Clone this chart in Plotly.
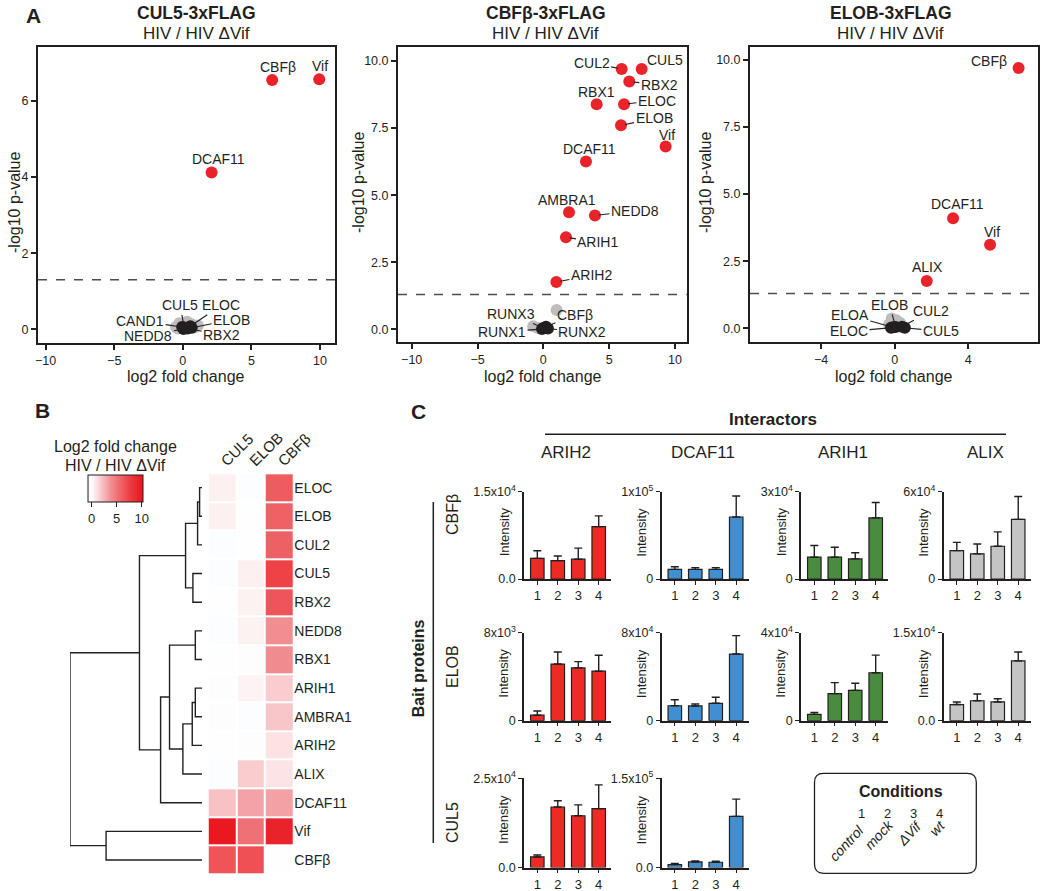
import plotly.graph_objects as go

W, H = 1045, 891
FONT = 'Liberation Sans, Arial, Helvetica, sans-serif'
INK = '#231f20'
RED = '#e8242a'
GRAY_PT = '#bdbdbd'

# ---------------- DATA ----------------
# Panel A: CUL5-3xFLAG
cul5_sig_names = ['CBFβ', 'Vif', 'DCAF11']
cul5_sig_fc = [6.52, 9.95, 2.10]
cul5_sig_p = [6.55, 6.57, 4.12]
cul5_ns_names = ['CUL5', 'ELOC', 'ELOB', 'CAND1', 'NEDD8', 'RBX2']
cul5_ns_fc = [0.10, 0.55, 0.65, -0.05, 0.05, 0.35]
cul5_ns_p = [0.05, 0.08, 0.04, 0.06, 0.01, 0.02]
cul5_bg_fc = [-0.5, -0.25, 0.3, 0.85, 0.6, -0.35, 1.1, 0.15]
cul5_bg_p = [0.06, 0.16, 0.20, 0.05, 0.14, 0.02, 0.10, 0.12]

# Panel A: CBFb-3xFLAG
cbfb_sig_names = ['CUL2', 'CUL5', 'RBX2', 'RBX1', 'ELOC', 'ELOB', 'Vif', 'DCAF11',
                  'AMBRA1', 'NEDD8', 'ARIH1', 'ARIH2']
cbfb_sig_fc = [5.95, 7.47, 6.53, 4.05, 6.13, 5.90, 9.29, 3.24, 1.95, 3.92, 1.72, 0.99]
cbfb_sig_p = [9.70, 9.70, 9.23, 8.39, 8.39, 7.60, 6.81, 6.25, 4.36, 4.24, 3.43, 1.76]
cbfb_ns_names = ['RUNX3', 'CBFβ', 'RUNX1', 'RUNX2']
cbfb_ns_fc = [0.0, 0.2, -0.1, 0.35]
cbfb_ns_p = [0.05, 0.10, 0.01, 0.03]
cbfb_bg_fc = [1.01, -0.77, -0.4]
cbfb_bg_p = [0.72, 0.12, 0.05]

# Panel A: ELOB-3xFLAG
elob_sig_names = ['CBFβ', 'DCAF11', 'Vif', 'ALIX']
elob_sig_fc = [6.73, 3.17, 5.18, 1.74]
elob_sig_p = [9.70, 4.10, 3.11, 1.76]
elob_ns_names = ['ELOA', 'ELOB', 'CUL2', 'ELOC', 'CUL5']
elob_ns_fc = [-0.10, 0.05, 0.40, -0.20, 0.55]
elob_ns_p = [0.04, 0.05, 0.06, 0.02, 0.02]
elob_bg_fc = [-0.16, 0.10, -0.30, 0.30]
elob_bg_p = [0.37, 0.30, 0.15, 0.20]

p_threshold = 1.3  # -log10(0.05)

# Panel B: heatmap
heat_rows = ['ELOC', 'ELOB', 'CUL2', 'CUL5', 'RBX2', 'NEDD8', 'RBX1', 'ARIH1',
             'AMBRA1', 'ARIH2', 'ALIX', 'DCAF11', 'Vif', 'CBFβ']
heat_cols = ['CUL5', 'ELOB', 'CBFβ']
heat_cul5 = [0.5, 0.5, -0.15, -0.15, 0.05, -0.15, 0.05, -0.1, -0.1, 0.05, -0.15, 2.1, 9.95, 6.52]
heat_elob = [-0.15, 0.05, 0.05, 0.5, 0.45, 0.45, -0.1, 0.4, -0.15, -0.1, 1.74, 3.17, 5.18, 6.73]
heat_cbfb = [6.13, 5.90, 5.95, 7.47, 6.53, 3.92, 4.05, 1.72, 1.95, 0.99, 0.9, 3.24, 9.29, 0.05]
# dendrogram merges (scipy style: leaf ids 0..13, new clusters from 14), distances
dendro_left = [0, 14, 3, 15, 5, 7, 19, 20, 18, 22, 17, 12, 24]
dendro_right = [1, 2, 4, 16, 6, 8, 9, 10, 21, 11, 23, 13, 25]
dendro_dist = [0.18, 0.33, 0.68, 1.23, 0.50, 0.50, 0.73, 1.43, 2.43, 3.10, 4.68, 7.18, 9.88]

# Panel C: intensities (conditions 1..4)
conditions = [1, 2, 3, 4]
condition_names = ['control', 'mock', 'ΔVif', 'wt']
cbfb_arih2 = [3550, 3150, 3400, 9000]
cbfb_arih2_err = [1300, 800, 1900, 1850]
cbfb_dcaf11 = [11000, 11000, 11000, 71000]
cbfb_dcaf11_err = [3000, 2000, 2000, 24000]
cbfb_arih1 = [7500, 7500, 6900, 21000]
cbfb_arih1_err = [4000, 3400, 2100, 5300]
cbfb_alix = [19500, 17300, 22500, 41000]
cbfb_alix_err = [5700, 6800, 9900, 15700]
elob_arih2 = [500, 5150, 4800, 4500]
elob_arih2_err = [380, 1100, 570, 1450]
elob_dcaf11 = [13600, 13400, 15800, 60600]
elob_dcaf11_err = [5500, 1800, 5500, 16700]
elob_arih1 = [2900, 12300, 13800, 21800]
elob_arih1_err = [900, 5000, 3200, 8000]
elob_alix = [2750, 3400, 3200, 10200]
elob_alix_err = [450, 1150, 550, 1500]
cul5_arih2 = [2950, 16950, 14500, 16500]
cul5_arih2_err = [550, 1750, 3050, 6650]
cul5_dcaf11 = [5000, 9300, 8800, 86000]
cul5_dcaf11_err = [1700, 1700, 1700, 29000]
bait_names = ['CBFβ', 'ELOB', 'CUL5']
interactor_names = ['ARIH2', 'DCAF11', 'ARIH1', 'ALIX']
axis_max_cbfb = [1.5e4, 1e5, 3e4, 6e4]
axis_max_elob = [8e3, 8e4, 4e4, 1.5e4]
axis_max_cul5 = [2.5e4, 1.5e5]
top_tick_cbfb = ['1.5x10<sup>4</sup>', '1x10<sup>5</sup>', '3x10<sup>4</sup>', '6x10<sup>4</sup>']
top_tick_elob = ['8x10<sup>3</sup>', '8x10<sup>4</sup>', '4x10<sup>4</sup>', '1.5x10<sup>4</sup>']
top_tick_cul5 = ['2.5x10<sup>4</sup>', '1.5x10<sup>5</sup>']
zero_tick_cbfb = ['0.0', '0', '0', '0']
zero_tick_elob = ['0', '0', '0', '0.0']
zero_tick_cul5 = ['0.0', '0.0']


# ---------------- helpers ----------------
def fx(p):
    return p / W


def fy(p):
    return 1 - p / H


def dom_x(a, b):
    return [a / W, b / W]


def dom_y(top, bottom):
    return [1 - bottom / H, 1 - top / H]


fig = go.Figure()
layout = {}
ann = []
shapes = []


def text(x, y, s, size, bold=False, angle=0, xanchor='center', yanchor='middle', italic=False):
    t = s
    if bold:
        t = '<b>' + t + '</b>'
    if italic:
        t = '<i>' + t + '</i>'
    ann.append(dict(x=fx(x), y=fy(y), xref='paper', yref='paper', text=t, showarrow=False,
                    textangle=angle, xanchor=xanchor, yanchor=yanchor,
                    font=dict(family=FONT, size=size, color=INK)))


def line_shape(x0, y0, x1, y1, width=1.5, color=INK, dash='solid', xref='paper', yref='paper'):
    shapes.append(dict(type='line', xref=xref, yref=yref, x0=x0, x1=x1, y0=y0, y1=y1,
                       opacity=1, line=dict(color=color, width=width, dash=dash)))


# ---------------- Panel A ----------------
volcanos = [
    dict(title='CUL5-3xFLAG', dom=([38, 335], [47, 343]), xr=[-10.56, 11.1], yr=[-0.36, 7.42],
         xt=[-10, -5, 0, 5, 10], yt=[0, 2, 4, 6], yfmt='d',
         sig=(cul5_sig_names, cul5_sig_fc, cul5_sig_p), ns=(cul5_ns_names, cul5_ns_fc, cul5_ns_p),
         bg=(cul5_bg_fc, cul5_bg_p), tx=196, ytitle=(15, 202), xtitle=186,
         lab={'CBFβ': ('a', 6, 13.5), 'Vif': ('a', 1, 13), 'DCAF11': ('a', 6.5, 14),
              'CUL5': ('l', -4, -22), 'ELOC': ('l', 31, -21), 'ELOB': ('l', 40, -8),
              'CAND1': ('l', -42, -6), 'NEDD8': ('l', -35, 7), 'RBX2': ('l', 34, 6.5)}),
    dict(title='CBFβ-3xFLAG', dom=([398, 686.7], [46.7, 341.7]), xr=[-11.04, 10.89], yr=[-0.46, 10.53],
         xt=[-10, -5, 0, 5, 10], yt=[0, 2.5, 5, 7.5, 10], yfmt='.1f',
         sig=(cbfb_sig_names, cbfb_sig_fc, cbfb_sig_p), ns=(cbfb_ns_names, cbfb_ns_fc, cbfb_ns_p),
         bg=(cbfb_bg_fc, cbfb_bg_p), tx=545.5, ytitle=(359, 182), xtitle=543,
         lab={'CUL2': ('l', -30, -6), 'CUL5': ('l', 23, -9), 'RBX2': ('l', 30, 3),
              'RBX1': ('a', 0, 12.5), 'ELOC': ('l', 33, -3.5), 'ELOB': ('l', 33, -7),
              'Vif': ('a', 1.5, 12), 'DCAF11': ('a', 4, 12.5), 'AMBRA1': ('a', -2, 12.5),
              'NEDD8': ('l', 40, -5), 'ARIH1': ('l', 32, 5), 'ARIH2': ('l', 35, -7),
              'RUNX3': ('l', -32, -14), 'CBFβ': ('l', 29, -12), 'RUNX1': ('l', -40, 3),
              'RUNX2': ('l', 34.5, 3.5)}),
    dict(title='ELOB-3xFLAG', dom=([750, 1038.3], [47, 342.3]), xr=[-7.86, 7.8], yr=[-0.52, 10.48],
         xt=[-4, 0, 4], yt=[0, 2.5, 5, 7.5, 10], yfmt='.1f',
         sig=(elob_sig_names, elob_sig_fc, elob_sig_p), ns=(elob_ns_names, elob_ns_fc, elob_ns_p),
         bg=(elob_bg_fc, elob_bg_p), tx=890.5, ytitle=(706, 182), xtitle=894,
         lab={'CBFβ': ('a', -29.5, 6.5), 'DCAF11': ('a', 4.5, 14), 'Vif': ('a', 1.5, 13),
              'ALIX': ('a', 0.5, 14), 'ELOA': ('l', -43, -12), 'ELOB': ('l', -6, -22),
              'CUL2': ('l', 29, -16), 'ELOC': ('l', -42, 3.5), 'CUL5': ('l', 36, 3.5)}),
]

for i, v in enumerate(volcanos):
    n = i + 1
    xa = 'x' if n == 1 else 'x%d' % n
    ya = 'y' if n == 1 else 'y%d' % n
    fig.add_trace(go.Scatter(x=v['bg'][0], y=v['bg'][1], mode='markers', xaxis=xa, yaxis=ya,
                             marker=dict(size=12, color=GRAY_PT, line=dict(width=0)),
                             showlegend=False, hoverinfo='skip'))
    fig.add_trace(go.Scatter(x=v['ns'][1], y=v['ns'][2], mode='markers', xaxis=xa, yaxis=ya,
                             text=v['ns'][0], marker=dict(size=12, color=INK, line=dict(width=0)),
                             showlegend=False))
    fig.add_trace(go.Scatter(x=v['sig'][1], y=v['sig'][2], mode='markers', xaxis=xa, yaxis=ya,
                             text=v['sig'][0], marker=dict(size=12, color=RED, line=dict(width=0)),
                             showlegend=False))
    axstyle = dict(showline=True, mirror=True, linewidth=2, linecolor=INK, ticks='outside',
                   ticklen=5, tickwidth=1.5, tickcolor=INK, showgrid=False, zeroline=False,
                   tickfont=dict(family=FONT, size=12.5, color=INK))
    layout['xaxis' if n == 1 else 'xaxis%d' % n] = dict(
        domain=dom_x(*v['dom'][0]), range=v['xr'], tickvals=v['xt'], anchor=ya, **axstyle)
    layout['yaxis' if n == 1 else 'yaxis%d' % n] = dict(
        domain=dom_y(*v['dom'][1]), range=v['yr'], tickvals=v['yt'], tickformat=v['yfmt'],
        anchor=xa, **axstyle)
    line_shape(0, p_threshold, 1, p_threshold, width=1.5, color='#4d4d4d', dash='dash',
               xref=xa + ' domain', yref=ya)
    for names, fcs, ps in (v['sig'], v['ns']):
        for nm, f, p in zip(names, fcs, ps):
            st = v['lab'][nm]
            base = dict(x=f, y=p, xref=xa, yref=ya, text=nm,
                        font=dict(family=FONT, size=14, color=INK))
            if st[0] == 'a':
                base.update(showarrow=False, xshift=st[1], yshift=st[2])
            else:
                base.update(showarrow=True, arrowhead=0, arrowwidth=1.1, arrowcolor=INK,
                            ax=st[1], ay=st[2], standoff=4)
            ann.append(base)
    text(v['tx'], 13.5, v['title'], 17.5, bold=True)
    text(v['tx'], 33.5, 'HIV / HIV ΔVif', 17)
    text(v['ytitle'][0], v['ytitle'][1], '-log10 p-value', 16, angle=-90)
    text(v['xtitle'], 376.5, 'log2 fold change', 16)

text(33, 15, 'A', 21, bold=True)

# ---------------- Panel B ----------------
zmin, zmax = -0.7, 10.25
stops = [(-0.7, '#f1f4fa'), (0, '#ffffff'), (2, 'rgb(248,196,199)'), (4, 'rgb(240,140,144)'),
         (6, 'rgb(239,95,99)'), (8, 'rgb(236,55,60)'), (10.25, 'rgb(231,20,27)')]
cscale = [[(z - zmin) / (zmax - zmin), c] for z, c in stops]
zmat = [[a, b, c] for a, b, c in zip(heat_cul5, heat_elob, heat_cbfb)]
fig.add_trace(go.Heatmap(
    z=zmat, x=heat_cols, y=list(range(len(heat_rows))), xaxis='x4', yaxis='y4',
    colorscale=cscale, zmin=zmin, zmax=zmax, xgap=2, ygap=2,
    colorbar=dict(orientation='h', x=fx(115.5), xanchor='center', y=fy(475), yanchor='top',
                  len=55, lenmode='pixels', thickness=27, thicknessmode='pixels',
                  outlinewidth=1, outlinecolor=INK, tickvals=[0, 5, 10], ticks='outside',
                  ticklen=5, tickcolor=INK, xpad=0, ypad=0,
                  tickfont=dict(family=FONT, size=13, color=INK))))
text(115.5, 446.7, 'Log2 fold change', 16)
text(115.5, 465.5, 'HIV / HIV ΔVif', 16)
hm_top, hm_bot = 473.3, 874.3
layout['xaxis4'] = dict(domain=dom_x(207.7, 293.3), side='top', tickangle=-45, anchor='y4',
                        showline=False, ticks='', showgrid=False, zeroline=False,
                        tickfont=dict(family=FONT, size=15, color=INK))
layout['yaxis4'] = dict(domain=dom_y(hm_top, hm_bot), side='right', anchor='x4',
                        range=[len(heat_rows) - 0.5, -0.5],
                        tickvals=list(range(len(heat_rows))), ticktext=heat_rows,
                        showline=False, ticks='', showgrid=False, zeroline=False,
                        tickfont=dict(family=FONT, size=14, color=INK))

# dendrogram
node_y = {i: float(i) for i in range(len(heat_rows))}
node_h = {i: 0.0 for i in range(len(heat_rows))}
dxs, dys = [], []
for k, (a, b, d) in enumerate(zip(dendro_left, dendro_right, dendro_dist)):
    nid = len(heat_rows) + k
    dxs += [node_h[a], d, d, node_h[b], None]
    dys += [node_y[a], node_y[a], node_y[b], node_y[b], None]
    node_y[nid] = (node_y[a] + node_y[b]) / 2
    node_h[nid] = d
fig.add_trace(go.Scatter(x=dxs, y=dys, mode='lines', xaxis='x5', yaxis='y5',
                         line=dict(color=INK, width=1.4), showlegend=False, hoverinfo='skip'))
layout['xaxis5'] = dict(domain=dom_x(70, 202), range=[max(dendro_dist), 0], anchor='y5',
                        visible=False)
layout['yaxis5'] = dict(domain=dom_y(hm_top, hm_bot), range=[len(heat_rows) - 0.5, -0.5],
                        anchor='x5', visible=False)
text(42, 410, 'B', 21, bold=True)

# ---------------- Panel C ----------------
col_colors = ['#ee2a24', '#3f8fd2', '#4a8c3f', '#c4c4c4']
col_x0 = [524, 661.5, 801, 943.5]
col_w = 87
row_top = [491.7, 632.7, 778.3]
row_bot = [579, 720.7, 867.5]
bar_table = [
    (0, 0, cbfb_arih2, cbfb_arih2_err, axis_max_cbfb[0], zero_tick_cbfb[0], top_tick_cbfb[0]),
    (0, 1, cbfb_dcaf11, cbfb_dcaf11_err, axis_max_cbfb[1], zero_tick_cbfb[1], top_tick_cbfb[1]),
    (0, 2, cbfb_arih1, cbfb_arih1_err, axis_max_cbfb[2], zero_tick_cbfb[2], top_tick_cbfb[2]),
    (0, 3, cbfb_alix, cbfb_alix_err, axis_max_cbfb[3], zero_tick_cbfb[3], top_tick_cbfb[3]),
    (1, 0, elob_arih2, elob_arih2_err, axis_max_elob[0], zero_tick_elob[0], top_tick_elob[0]),
    (1, 1, elob_dcaf11, elob_dcaf11_err, axis_max_elob[1], zero_tick_elob[1], top_tick_elob[1]),
    (1, 2, elob_arih1, elob_arih1_err, axis_max_elob[2], zero_tick_elob[2], top_tick_elob[2]),
    (1, 3, elob_alix, elob_alix_err, axis_max_elob[3], zero_tick_elob[3], top_tick_elob[3]),
    (2, 0, cul5_arih2, cul5_arih2_err, axis_max_cul5[0], zero_tick_cul5[0], top_tick_cul5[0]),
    (2, 1, cul5_dcaf11, cul5_dcaf11_err, axis_max_cul5[1], zero_tick_cul5[1], top_tick_cul5[1]),
]
for k, (r, c, vals, errs, ymax, z0, ztop) in enumerate(bar_table):
    n = 6 + k
    xa, ya = 'x%d' % n, 'y%d' % n
    fig.add_trace(go.Bar(x=conditions, y=vals, xaxis=xa, yaxis=ya, width=0.66,
                         marker=dict(color=col_colors[c], line=dict(color=INK, width=1.2)),
                         error_y=dict(type='data', array=errs, arrayminus=[0] * len(errs),
                                      symmetric=False, color=INK, thickness=1.4, width=4),
                         showlegend=False))
    st = dict(showline=True, linewidth=1.5, linecolor=INK, ticks='outside', ticklen=4,
              tickwidth=1.3, tickcolor=INK, showgrid=False, zeroline=False)
    layout['xaxis%d' % n] = dict(domain=dom_x(col_x0[c], col_x0[c] + col_w), anchor=ya,
                                 range=[0.35, 4.6], tickvals=conditions,
                                 tickfont=dict(family=FONT, size=13, color=INK), **st)
    layout['yaxis%d' % n] = dict(domain=dom_y(row_top[r], row_bot[r]), anchor=xa,
                                 range=[0, ymax], tickvals=[0, ymax], ticktext=[z0, ztop],
                                 tickfont=dict(family=FONT, size=12.5, color=INK), **st)
    text(col_x0[c] - 20, (row_top[r] + row_bot[r]) / 2 - 3, 'Intensity', 13, angle=-90)

text(418.7, 411.7, 'C', 21, bold=True)
text(773.3, 419.3, 'Interactors', 17, bold=True)
line_shape(fx(545), fy(434.3), fx(1006), fy(434.3))
for c, nm in enumerate(interactor_names):
    text(col_x0[c] + col_w / 2 - 2, 452.7, nm, 17)
text(418.3, 668, 'Bait proteins', 16, bold=True, angle=-90)
line_shape(fx(433.3), fy(502), fx(433.3), fy(843))
for r, nm in enumerate(bait_names):
    text(452, [515, 667, 823][r], nm, 16, angle=-90)

# legend box
bx0, bx1, by0, by1, rad = 814.5, 976.3, 773.3, 873.3, 9
path = ('M {a},{b} L {c},{b} Q {e},{b} {e},{f} L {e},{g} Q {e},{h} {c},{h} L {a},{h} '
        'Q {i},{h} {i},{g} L {i},{f} Q {i},{b} {a},{b} Z').format(
    a=fx(bx0 + rad), b=fy(by0), c=fx(bx1 - rad), e=fx(bx1), f=fy(by0 + rad),
    g=fy(by1 - rad), h=fy(by1), i=fx(bx0))
shapes.append(dict(type='path', xref='paper', yref='paper', path=path, opacity=1,
                   fillcolor='rgba(0,0,0,0)', line=dict(color=INK, width=1.3)))
text(901, 791, 'Conditions', 16, bold=True)
num_x = [861.1, 887.7, 913.8, 939.5]
label_centers = [(846.5, 843), (878.5, 835), (909.6, 832.5), (937.4, 828.3)]
for i, (cnum, cname) in enumerate(zip(conditions, condition_names)):
    text(num_x[i], 813.3, str(cnum), 13)
    text(label_centers[i][0], label_centers[i][1], cname, 14, angle=-47, italic=True)

layout.update(width=W, height=H, margin=dict(l=0, r=0, t=0, b=0, pad=0), autosize=False,
              paper_bgcolor='white', plot_bgcolor='white', template='none',
              annotations=ann, shapes=shapes, showlegend=False,
              font=dict(family=FONT, color=INK), bargap=0.3)
fig.update_layout(**layout)
fig.write_html('out.html', config={'displayModeBar': False},
               post_script="document.body.style.margin='0';document.body.style.overflow='hidden';")
